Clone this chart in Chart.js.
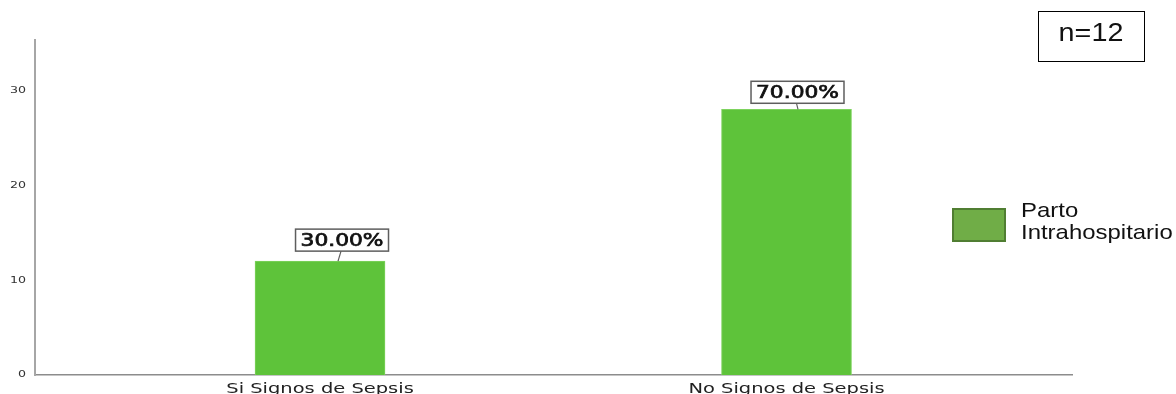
<!DOCTYPE html>
<html>
<head>
  <title>Signos de Sepsis</title>
  <meta name="viewport" content="width=device-width, initial-scale=1">
  <script src="https://cdn.jsdelivr.net/npm/chart.js"></script>
  <style>
    body {
      margin: 0;
      padding: 0;
      background: #fff;
    }

    canvas {
      display: block;
    }
  </style>
</head>
<body>

  <canvas id="myChart" width="1176" height="394"></canvas>

  <script>
    // datos del grafico
    const categorias = ['Si Signos de Sepsis', 'No Signos de Sepsis'];
    const frecuencias = [12, 28];
    const porcentajes = ['30.00%', '70.00%'];
    const serie = ['Parto', 'Intrahospitario'];
    const marcasY = [0, 10, 20, 30];
    const muestra = 'n=12';

    // desplazamiento de cada etiqueta respecto a su barra
    const desplaza = [{ dx: 22, dy: 10, lx: 18 }, { dx: 11, dy: 6, lx: 11.5 }];

    // texto estirado en horizontal
    function texto(ctx, t, x, y, sx, align, trazo) {
      ctx.save();
      ctx.translate(x, y);
      ctx.scale(sx, 1);
      ctx.textAlign = align;
      ctx.fillText(t, 0, 0);
      if (trazo) {
        ctx.lineWidth = trazo;
        ctx.strokeStyle = ctx.fillStyle;
        ctx.strokeText(t, 0, 0);
      }
      ctx.restore();
    }

    const rotulos = {
      id: 'rotulos',
      afterDraw(chart) {
        const ctx = chart.ctx;
        const xs = chart.scales.x;
        const ys = chart.scales.y;
        ctx.save();

        // etiquetas de los ejes
        ctx.fillStyle = '#333';
        ctx.textBaseline = 'middle';
        ctx.font = '9.5px "DejaVu Sans"';
        ys.ticks.forEach(t => texto(ctx, String(t.value), 26, ys.getPixelForValue(t.value), 1.33, 'right'));

        ctx.textBaseline = 'alphabetic';
        ctx.fillStyle = '#222';
        ctx.font = '14px "DejaVu Sans"';
        xs.ticks.forEach(t => texto(ctx, categorias[t.value], xs.getPixelForValue(t.value), 393, 1.39, 'center'));

        // porcentajes sobre las barras
        ctx.font = '17px "DejaVu Sans"';
        chart.getDatasetMeta(0).data.forEach((bar, i) => {
          const d = desplaza[i];
          const cx = bar.x + d.dx;
          const abajo = bar.y - d.dy;
          const w = ctx.measureText(porcentajes[i]).width * 1.28 + 10;
          const h = 22;
          ctx.strokeStyle = '#5e5e5e';
          ctx.lineWidth = 1.2;
          ctx.beginPath();
          ctx.moveTo(cx - 1, abajo);
          ctx.lineTo(bar.x + d.lx, bar.y);
          ctx.stroke();
          ctx.fillStyle = '#fff';
          ctx.fillRect(cx - w / 2, abajo - h, w, h);
          ctx.lineWidth = 1.5;
          ctx.strokeRect(cx - w / 2, abajo - h, w, h);
          ctx.fillStyle = '#111';
          texto(ctx, porcentajes[i], cx, abajo - 5.5, 1.28, 'center', 0.7);
        });

        // leyenda
        ctx.fillStyle = '#70ad47';
        ctx.fillRect(953, 209, 52, 32);
        ctx.strokeStyle = '#507e32';
        ctx.lineWidth = 2;
        ctx.strokeRect(953, 209, 52, 32);
        ctx.fillStyle = '#111';
        ctx.font = '21px "Liberation Sans"';
        texto(ctx, serie[0], 1021, 217, 1.14, 'left');
        texto(ctx, serie[1], 1021, 239, 1.14, 'left');

        // recuadro del tamaño de muestra
        ctx.strokeStyle = '#000';
        ctx.lineWidth = 1;
        ctx.strokeRect(1038.5, 11.5, 106, 50);
        ctx.font = '25px "Liberation Sans"';
        texto(ctx, muestra, 1091, 41, 1.15, 'center');

        ctx.restore();
      }
    };

    const ctx = document.getElementById('myChart').getContext('2d');
    const chart = new Chart(ctx, {
      type: 'bar',
      data: {
        datasets: [{
          label: serie.join(' '),
          data: categorias.map((c, i) => ({ x: i, y: frecuencias[i] })),
          backgroundColor: '#5ec33a',
          borderColor: '#7ed35e',
          borderWidth: 1,
          barThickness: 130
        }]
      },
      options: {
        responsive: false,
        animation: false,
        layout: { padding: { left: 0, top: 40, right: 104, bottom: 0 } },
        plugins: {
          legend: { display: false },
          tooltip: { enabled: false }
        },
        scales: {
          x: {
            type: 'linear',
            offset: false,
            min: -0.611,
            max: 1.612,
            grid: { display: false, offset: false },
            border: { color: '#8c8c8c', width: 1.5 },
            ticks: { display: false },
            afterBuildTicks: s => { s.ticks = categorias.map((c, i) => ({ value: i })); },
            afterFit: s => { s.height = 19; }
          },
          y: {
            min: 0,
            max: 35.3,
            grid: { display: false },
            border: { color: '#a6a6a6', width: 2 },
            ticks: { display: false },
            afterBuildTicks: s => { s.ticks = marcasY.map(v => ({ value: v })); },
            afterFit: s => { s.width = 35; }
          }
        }
      },
      plugins: [rotulos]
    });
  </script>

</body>
</html>
